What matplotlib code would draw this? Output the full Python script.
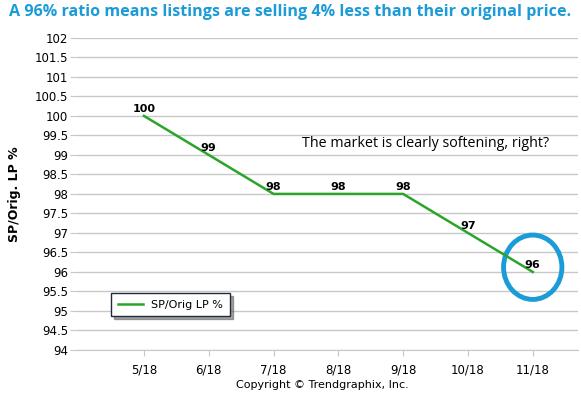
import matplotlib.pyplot as plt
from matplotlib.patches import Ellipse

months = ['5/18', '6/18', '7/18', '8/18', '9/18', '10/18', '11/18']
ratio = [100, 99, 98, 98, 98, 97, 96]
yticks = [94 + 0.5 * i for i in range(17)]

green = '#2aa52a'
blue = '#1b9bd7'
grid = '#c8c8c8'

fig = plt.figure(figsize=(5.81, 3.99), dpi=100)
ax = fig.add_axes([0.134, 0.123, 0.861, 0.782])

x = list(range(len(months)))
ax.plot(x, ratio, color=green, lw=1.8, label='SP/Orig LP %')
for xi, v in zip(x, ratio):
    ax.annotate(str(v), (xi, v), xytext=(0, 1.5), textcoords='offset points',
                ha='center', va='bottom', fontsize=8, fontweight='bold')

ax.set_xlim(-1.02, 6.7)
ax.set_ylim(94, 102)
ax.set_xticks(x)
ax.set_xticklabels(months)
ax.set_yticks(yticks)
ax.set_yticklabels(['%g' % t for t in yticks])
ax.grid(axis='y', color=grid, lw=1)
ax.set_axisbelow(True)
for s in ['top', 'right', 'left']:
    ax.spines[s].set_visible(False)
ax.spines['bottom'].set_color(grid)
ax.tick_params(axis='y', length=6, color=grid, labelsize=8.5, pad=1)
ax.tick_params(axis='x', length=4, color=grid, labelsize=8.5, pad=6)
ax.set_ylabel('SP/Orig. LP %', fontsize=9, fontweight='bold', labelpad=10)

leg = ax.legend(loc='upper left', bbox_to_anchor=(0.056, 0.2), fontsize=8,
                fancybox=False, shadow=True, handlelength=2.2,
                borderpad=0.6, framealpha=1)
leg.get_frame().set_edgecolor('#1f2a3a')

ax.text(0.448, 0.66, 'The market is clearly softening, right?', transform=ax.transAxes,
        fontsize=10.3, family='Open Sans', ha='left', va='center')

ax.add_patch(Ellipse((6, 96.12), 0.9, 1.65, fill=False, ec=blue, lw=3.5))

fig.text(0.5, 0.97, 'A 96% ratio means listings are selling 4% less than their original price.',
         ha='center', va='center', color=blue, fontsize=11.6, fontweight='bold', family='Open Sans')
fig.text(0.555, 0.035, 'Copyright \u00a9 Trendgraphix, Inc.', ha='center', va='center', fontsize=8)

fig.savefig('out.png', dpi=100)
